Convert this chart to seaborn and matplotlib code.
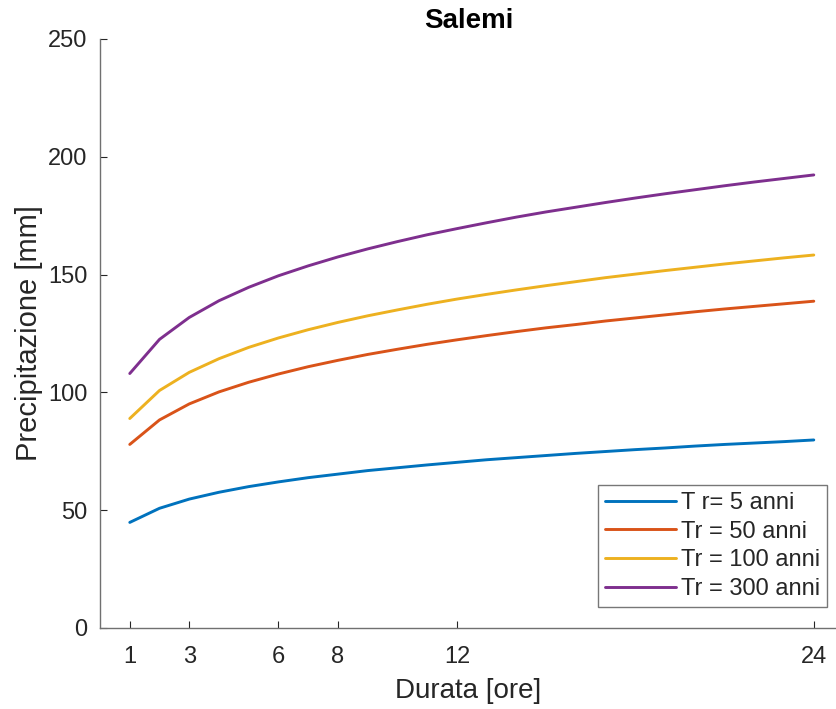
import matplotlib
matplotlib.use("Agg")
import matplotlib.pyplot as plt
import seaborn as sns
import pandas as pd

# Durations [hours]
durata = list(range(1, 25))

# Rainfall depth [mm] for each return period
tr5 = [44.8, 50.8, 54.7, 57.6, 60.0, 62.0, 63.8, 65.3, 66.8, 68.0, 69.2, 70.3,
       71.4, 72.3, 73.2, 74.1, 74.9, 75.7, 76.4, 77.2, 77.9, 78.5, 79.1, 79.8]
tr50 = [77.9, 88.3, 95.1, 100.2, 104.3, 107.8, 110.9, 113.6, 116.1, 118.3, 120.4, 122.3,
        124.1, 125.8, 127.4, 128.8, 130.3, 131.6, 132.9, 134.2, 135.4, 136.5, 137.6, 138.7]
tr100 = [88.9, 100.8, 108.5, 114.3, 119.1, 123.1, 126.6, 129.7, 132.5, 135.0, 137.4, 139.6,
         141.6, 143.5, 145.3, 147.0, 148.7, 150.2, 151.7, 153.1, 154.5, 155.8, 157.1, 158.3]
tr300 = [108.0, 122.5, 131.8, 138.9, 144.6, 149.5, 153.7, 157.5, 160.9, 164.0, 166.9, 169.5,
         172.0, 174.4, 176.6, 178.6, 180.6, 182.5, 184.3, 186.0, 187.7, 189.3, 190.8, 192.3]

series_labels = ["T r= 5 anni", "Tr = 50 anni", "Tr = 100 anni", "Tr = 300 anni"]
series_values = [tr5, tr50, tr100, tr300]
colors = ["#0072BD", "#D95319", "#EDB120", "#7E2F8E"]

x_ticks = [1, 3, 6, 8, 12, 24]
y_ticks = [0, 50, 100, 150, 200, 250]

df = pd.concat(
    [pd.DataFrame({"Durata": durata, "Precipitazione": vals, "Serie": lab})
     for lab, vals in zip(series_labels, series_values)],
    ignore_index=True,
)

sns.set_theme(style="ticks")
plt.rcParams["font.family"] = ["Liberation Sans", "DejaVu Sans"]
text_color = "#262626"

fig = plt.figure(figsize=(8.37, 7.09), dpi=100)
ax = fig.add_axes([0.1195, 0.1143, 1 - 0.1195, 0.945 - 0.1143])

sns.lineplot(data=df, x="Durata", y="Precipitazione", hue="Serie",
             palette=colors, hue_order=series_labels, linewidth=2.1,
             ax=ax, legend=False)

ax.set_xlim(0, 24.78)
ax.set_ylim(0, 250)
ax.set_xticks(x_ticks)
ax.set_yticks(y_ticks)
ax.tick_params(direction="in", length=5, width=0.8, colors=text_color,
               labelsize=17)
ax.tick_params(axis="x", pad=13)
ax.tick_params(axis="y", pad=9)
for side in ["top", "right"]:
    ax.spines[side].set_visible(False)
for side in ["left", "bottom"]:
    ax.spines[side].set_color("#707070")
    ax.spines[side].set_linewidth(1.0)

ax.set_xlabel("Durata [ore]", fontsize=20, color=text_color, labelpad=7)
ax.set_ylabel("Precipitazione [mm]", fontsize=21, color=text_color, labelpad=4)
ax.set_title("Salemi", fontsize=20, fontweight="bold", color="black", pad=8)

handles = [plt.Line2D([], [], color=c, linewidth=2.1) for c in colors]
leg = ax.legend(handles, series_labels, loc="lower right",
                bbox_to_anchor=(827 / 837, 1 - 607 / 709),
                bbox_transform=fig.transFigure, borderaxespad=0,
                fontsize=17, handlelength=3.0, handletextpad=0.2,
                labelspacing=0.28, fancybox=False, frameon=True,
                borderpad=0.3)
leg.get_frame().set_edgecolor("#555555")
leg.get_frame().set_linewidth(1.0)
for t in leg.get_texts():
    t.set_color(text_color)

fig.savefig("out.png", dpi=100, facecolor="white")
